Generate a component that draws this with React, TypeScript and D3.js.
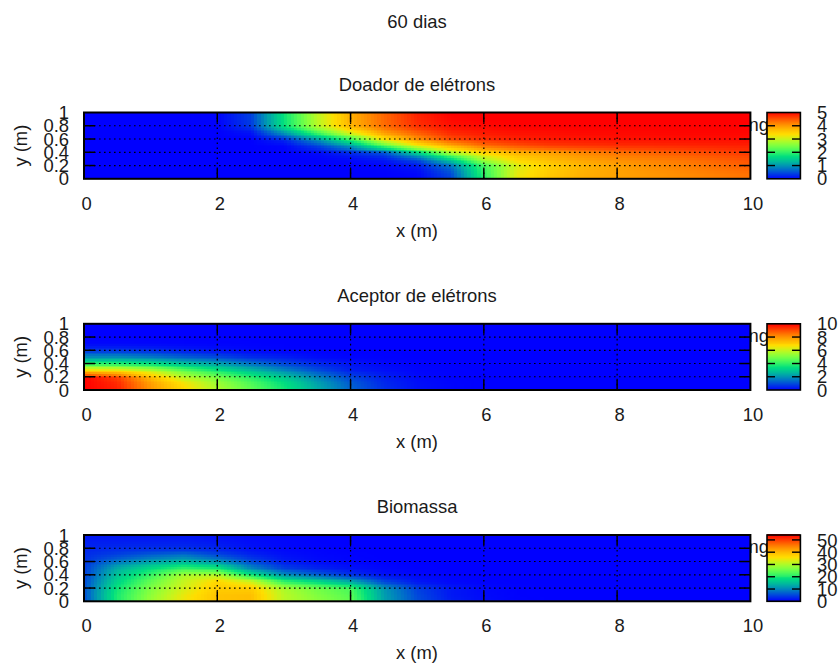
import React from "react";
import * as d3 from "d3";

// Grid axes of the sampled fields
const gridX = [0, 0.5, 1, 1.5, 2, 2.5, 3, 3.5, 4, 4.5, 5, 5.5, 6, 6.5, 7, 7.5, 8, 8.5, 9, 9.5, 10];
const gridY = [1, 0.9, 0.8, 0.7, 0.6, 0.5, 0.4, 0.3, 0.2, 0.1, 0];

// Values: rows top (y=1) to bottom (y=0)
const donorValues = [
  [0, 0, 0, 0, 0.02, 0.4, 1.75, 2.9, 3.8, 4.35, 4.8, 5, 5, 5, 5, 5, 5, 5, 5, 5, 5],
  [0, 0, 0, 0, 0.02, 0.38, 1.72, 2.88, 3.78, 4.33, 4.75, 4.95, 5, 5, 5, 5, 5, 5, 5, 5, 5],
  [0, 0, 0, 0, 0, 0.35, 1.7, 2.85, 3.75, 4.3, 4.7, 4.9, 4.95, 5, 5, 5, 5, 5, 5, 5, 5],
  [0, 0, 0, 0, 0, 0.1, 1.0, 2.1, 3.1, 3.95, 4.4, 4.75, 4.85, 4.9, 4.92, 4.95, 4.95, 4.96, 4.97, 4.97, 4.97],
  [0, 0, 0, 0, 0, 0, 0.25, 1.0, 2.0, 3.25, 4.0, 4.5, 4.7, 4.8, 4.85, 4.87, 4.9, 4.9, 4.92, 4.92, 4.92],
  [0, 0, 0, 0, 0, 0, 0.03, 0.4, 1.0, 2.1, 3.1, 3.75, 4.25, 4.45, 4.6, 4.66, 4.7, 4.72, 4.75, 4.78, 4.8],
  [0, 0, 0, 0, 0, 0, 0, 0.05, 0.25, 0.5, 1.5, 2.75, 3.4, 3.75, 3.9, 4.1, 4.25, 4.35, 4.45, 4.55, 4.65],
  [0, 0, 0, 0, 0, 0, 0, 0, 0.05, 0.15, 0.5, 1.5, 2.75, 3.4, 3.7, 3.9, 4.05, 4.15, 4.25, 4.38, 4.5],
  [0, 0, 0, 0, 0, 0, 0, 0, 0, 0.03, 0.15, 0.75, 2.1, 3.1, 3.5, 3.75, 3.9, 4.05, 4.15, 4.28, 4.4],
  [0, 0, 0, 0, 0, 0, 0, 0, 0, 0, 0.05, 0.5, 2.0, 3.15, 3.55, 3.78, 3.9, 4.0, 4.1, 4.2, 4.3],
  [0, 0, 0, 0, 0, 0, 0, 0, 0, 0, 0.02, 0.4, 1.9, 3.2, 3.6, 3.8, 3.9, 3.98, 4.05, 4.15, 4.25],
];

const acceptorValues = [
  [0, 0, 0, 0, 0, 0, 0, 0, 0, 0, 0, 0, 0, 0, 0, 0, 0, 0, 0, 0, 0],
  [0, 0, 0, 0, 0, 0, 0, 0, 0, 0, 0, 0, 0, 0, 0, 0, 0, 0, 0, 0, 0],
  [0, 0, 0, 0, 0, 0, 0, 0, 0, 0, 0, 0, 0, 0, 0, 0, 0, 0, 0, 0, 0],
  [0.1, 0.1, 0.08, 0.05, 0.03, 0.01, 0, 0, 0, 0, 0, 0, 0, 0, 0, 0, 0, 0, 0, 0, 0],
  [0.7, 0.7, 0.6, 0.4, 0.25, 0.12, 0.05, 0.02, 0, 0, 0, 0, 0, 0, 0, 0, 0, 0, 0, 0, 0],
  [2, 2, 1.7, 1.3, 1, 0.6, 0.4, 0.15, 0.05, 0.02, 0, 0, 0, 0, 0, 0, 0, 0, 0, 0, 0],
  [4.0, 3.8, 3.4, 2.7, 2.2, 1.5, 0.9, 0.5, 0.25, 0.08, 0.02, 0, 0, 0, 0, 0, 0, 0, 0, 0, 0],
  [6.8, 6.6, 5.8, 4.6, 3.6, 2.7, 1.8, 1.0, 0.4, 0.2, 0.06, 0.02, 0, 0, 0, 0, 0, 0, 0, 0, 0],
  [10, 9.2, 7.4, 5.8, 4.9, 3.9, 2.9, 1.8, 0.9, 0.4, 0.12, 0.03, 0, 0, 0, 0, 0, 0, 0, 0, 0],
  [10, 9.5, 7.9, 6.6, 5.4, 4.4, 3.4, 2.2, 1.2, 0.5, 0.18, 0.05, 0, 0, 0, 0, 0, 0, 0, 0, 0],
  [10, 9.6, 8.0, 6.8, 5.6, 4.6, 3.6, 2.4, 1.3, 0.6, 0.2, 0.05, 0, 0, 0, 0, 0, 0, 0, 0, 0],
];

const biomassValues = [
  [1.5, 1.5, 1.5, 1.5, 1, 0.6, 0.3, 0.1, 0, 0, 0, 0, 0, 0, 0, 0, 0, 0, 0, 0, 0],
  [2, 2, 2, 2, 1.5, 0.8, 0.4, 0.1, 0, 0, 0, 0, 0, 0, 0, 0, 0, 0, 0, 0, 0],
  [2.5, 3, 3.2, 3.2, 2.5, 1.2, 0.5, 0.2, 0, 0, 0, 0, 0, 0, 0, 0, 0, 0, 0, 0, 0],
  [3, 4.5, 6.5, 8, 5, 2.5, 1, 0.4, 0.1, 0, 0, 0, 0, 0, 0, 0, 0, 0, 0, 0, 0],
  [3.5, 8.5, 12, 14, 11, 5.4, 2, 0.8, 0.3, 0, 0, 0, 0, 0, 0, 0, 0, 0, 0, 0, 0],
  [4, 13, 18, 22, 20, 10, 4.5, 2.5, 1.2, 0.4, 0.1, 0, 0, 0, 0, 0, 0, 0, 0, 0, 0],
  [4.3, 15, 22, 30, 31, 20, 11, 7, 3.5, 1.2, 0.5, 0.2, 0, 0, 0, 0, 0, 0, 0, 0, 0],
  [4.9, 17, 25, 32, 37, 33, 22, 18, 13, 5, 1.6, 0.5, 0.1, 0, 0, 0, 0, 0, 0, 0, 0],
  [5.4, 19, 27, 33, 38, 38, 30, 26, 23, 11, 4.3, 1.6, 0.5, 0.1, 0, 0, 0, 0, 0, 0, 0],
  [5.4, 20, 28, 34.5, 39, 39.5, 31, 27, 24, 11.5, 4.9, 1.6, 0.6, 0.1, 0, 0, 0, 0, 0, 0, 0],
  [5, 20, 29, 35, 39, 39.5, 31, 28, 25, 12, 5.4, 2.2, 0.8, 0.2, 0, 0, 0, 0, 0, 0, 0],
];

const xTicks = [0, 2, 4, 6, 8, 10];
const yTicks = [0, 0.2, 0.4, 0.6, 0.8, 1];
const donorTicks = [0, 1, 2, 3, 4, 5];
const acceptorTicks = [0, 2, 4, 6, 8, 10];
const biomassTicks = [0, 10, 20, 30, 40, 50];

const panels = [
  { title: "Doador de elétrons", values: donorValues, max: 5, cbTicks: donorTicks, top: 112.5, bottom: 178.8 },
  { title: "Aceptor de elétrons", values: acceptorValues, max: 10, cbTicks: acceptorTicks, top: 323.8, bottom: 390 },
  { title: "Biomassa", values: biomassValues, max: 54, cbTicks: biomassTicks, top: 535, bottom: 601.3 },
];

const FONT = "'Liberation Sans', Arial, sans-serif";
const FS = 18.4;
const clamp = (v: number) => Math.max(0, Math.min(1, v));
const palette = (t: number) =>
  d3.rgb(
    255 * clamp(3 * t - 1),
    255 * clamp(Math.sin(Math.PI * t)),
    255 * clamp(1 - 1.5 * t)
  ).formatRgb();

const x = d3.scaleLinear().domain([0, 10]).range([84, 750.4]);
const colsX = d3.range(200).map((i) => (i + 0.5) * 0.05);
const rowsY = d3.range(40).map((i) => (i + 0.5) * 0.025);

function sample(values: number[][], px: number, py: number) {
  const fx = px / 0.5;
  const fy = (1 - py) / 0.1;
  const i0 = Math.min(gridX.length - 2, Math.floor(fx));
  const j0 = Math.min(gridY.length - 2, Math.floor(fy));
  const top = d3.interpolateNumber(values[j0][i0], values[j0][i0 + 1])(fx - i0);
  const bot = d3.interpolateNumber(values[j0 + 1][i0], values[j0 + 1][i0 + 1])(fx - i0);
  return d3.interpolateNumber(top, bot)(fy - j0);
}

function Panel({ p }: { p: (typeof panels)[number] }) {
  const y = d3.scaleLinear().domain([0, 1]).range([p.bottom, p.top]);
  const cb = d3.scaleLinear().domain([0, p.max]).range([p.bottom, p.top]);
  const color = d3.scaleSequential(palette).domain([0, p.max]);
  const cellW = x(0.05) - x(0) + 0.6;
  const cellH = y(0) - y(0.025) + 0.6;
  const cbSteps = d3.range(0, 67).map((i) => (i + 0.5) / 67);
  const cx = 417;
  return (
    <g fontFamily={FONT} fill="#1a1a1a">
      <text x={cx} y={p.top - 21.8} textAnchor="middle" fontSize={FS}>{p.title}</text>
      <text x={748.5} y={p.top + 18} fontSize={FS}>ng</text>
      <g shapeRendering="crispEdges">
        {colsX.map((cxv) =>
          rowsY.map((cyv) => (
            <rect
              key={cxv + "-" + cyv}
              x={x(cxv - 0.025)}
              y={y(cyv + 0.0125)}
              width={cellW}
              height={cellH}
              fill={color(sample(p.values, cxv, cyv))}
            />
          ))
        )}
      </g>
      {yTicks.slice(1, -1).map((t) => (
        <g key={"gy" + t}>
          <line x1={x(0)} x2={x(10)} y1={y(t)} y2={y(t)} stroke="#000" strokeWidth={1.2} strokeDasharray="1.6,3.4" />
          <line x1={x(0)} x2={x(0) + 11} y1={y(t)} y2={y(t)} stroke="#000" strokeWidth={1.5} />
          <line x1={x(10) - 11} x2={x(10)} y1={y(t)} y2={y(t)} stroke="#000" strokeWidth={1.5} />
        </g>
      ))}
      {xTicks.slice(1, -1).map((t) => (
        <g key={"gx" + t}>
          <line x1={x(t)} x2={x(t)} y1={p.top} y2={p.bottom} stroke="#000" strokeWidth={1.2} strokeDasharray="1.6,3.4" />
          <line x1={x(t)} x2={x(t)} y1={p.top} y2={p.top + 10} stroke="#000" strokeWidth={1.5} />
          <line x1={x(t)} x2={x(t)} y1={p.bottom - 10} y2={p.bottom} stroke="#000" strokeWidth={1.5} />
        </g>
      ))}
      <rect x={x(0)} y={p.top} width={x(10) - x(0)} height={p.bottom - p.top} fill="none" stroke="#000" strokeWidth={2} />
      {yTicks.map((t) => (
        <text key={"yl" + t} x={69} y={y(t)} dy="0.36em" textAnchor="end" fontSize={FS}>{t}</text>
      ))}
      {xTicks.map((t) => (
        <text key={"xl" + t} x={x(t) + 2.5} y={p.bottom + 31} textAnchor="middle" fontSize={FS}>{t}</text>
      ))}
      <text x={cx} y={p.bottom + 58} textAnchor="middle" fontSize={FS}>x (m)</text>
      <text transform={`translate(27,${(p.top + p.bottom) / 2}) rotate(-90)`} textAnchor="middle" fontSize={FS}>y (m)</text>
      <g>
        <g shapeRendering="crispEdges">
          {cbSteps.map((s) => (
            <rect key={s} x={767} y={p.bottom - (s + 0.01) * (p.bottom - p.top) - 0.5} width={33.4} height={1.6} fill={color(s * p.max)} />
          ))}
        </g>
        {p.cbTicks.slice(1).map((t) =>
          cb(t) - p.top > 1 ? (
            <g key={t}>
              <line x1={767} x2={775} y1={cb(t)} y2={cb(t)} stroke="#000" strokeWidth={1.4} />
              <line x1={792} x2={800.4} y1={cb(t)} y2={cb(t)} stroke="#000" strokeWidth={1.4} />
            </g>
          ) : null
        )}
        <rect x={767} y={p.top} width={33.4} height={p.bottom - p.top} fill="none" stroke="#000" strokeWidth={1.6} />
        {p.cbTicks.map((t) => (
          <text key={t} x={817} y={cb(t)} dy="0.36em" fontSize={FS}>{t}</text>
        ))}
      </g>
    </g>
  );
}

export default function App() {
  return (
    <svg width={839} height={664} style={{ position: "absolute", left: 0, top: 0, background: "#fff" }}>
      <text x={417} y={28} textAnchor="middle" fontSize={FS} fontFamily={FONT} fill="#1a1a1a">60 dias</text>
      {panels.map((p) => (
        <Panel key={p.title} p={p} />
      ))}
    </svg>
  );
}
